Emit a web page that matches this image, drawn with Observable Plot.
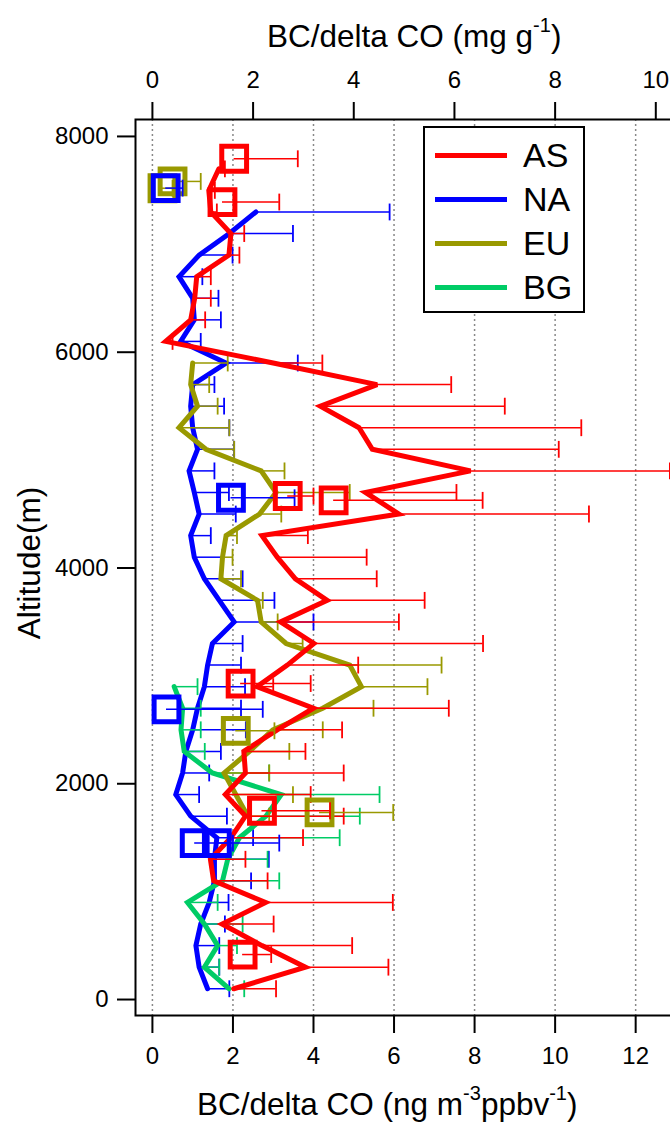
<!DOCTYPE html>
<html><head><meta charset="utf-8">
<script src="https://cdn.jsdelivr.net/npm/d3@7"></script>
<script src="https://cdn.jsdelivr.net/npm/@observablehq/plot@0.6"></script>
<style>
html,body{margin:0;padding:0;background:#fff;overflow:hidden;}
#wrap{position:relative;width:670px;height:1128px;overflow:hidden;font-family:"Liberation Sans",Arial,sans-serif;color:#000;}
#chart{position:absolute;left:0;top:0;width:700px;height:1128px;}
#chart svg{max-width:none !important;width:700px;height:1128px;}
.lab{position:absolute;white-space:nowrap;font-size:31.5px;line-height:1;}
.lab sup{font-size:20px;vertical-align:0;position:relative;top:-15px;}
#legend{position:absolute;left:423px;top:126px;width:158px;height:183px;border:2px solid #000;background:#fff;}
.li{position:absolute;left:10px;width:72px;height:5px;}
.lt{position:absolute;left:98px;font-size:34px;line-height:34px;}
</style></head><body>
<div id="wrap">
  <div id="chart"></div>
  <div class="lab" id="ttop" style="left:267px;top:21px;">BC/delta CO (mg g<sup>-1</sup>)</div>
  <div class="lab" id="tbot" style="left:197px;top:1089px;">BC/delta CO (ng m<sup>-3</sup>ppbv<sup>-1</sup>)</div>
  <div class="lab" id="tleft" style="left:30px;top:563px;transform:translate(-50%,-50%) rotate(-90deg);">Altitude(m)</div>
  <div id="legend"></div>
</div>
<script>
// ---------- data ----------
const seriesNames = ["AS", "NA", "EU", "BG"];
const seriesColors = ["#ff0000", "#0000ff", "#999900", "#00cc66"];

// AS (red) profile
const AS_alt = [100,300,500,700,900,1100,1300,1500,1700,1900,2100,2300,2500,2700,2900,3100,3300,3500,3700,3900,4100,4300,4500,4700,4900,5100,5300,5500,5700,5900,6100,6300,6500,6700,6900,7100,7300,7500,7700];
const AS_val = [2.02,3.80,2.72,1.73,2.81,1.52,1.44,1.95,2.31,1.81,2.31,2.27,3.10,4.00,2.60,3.35,4.01,3.18,4.34,3.55,3.10,2.72,6.12,5.29,7.90,5.46,5.13,4.17,5.58,3.00,0.33,0.95,1.05,1.10,1.90,1.95,1.45,1.40,1.65];
const AS_hi  = [3.07,5.86,4.96,3.01,5.97,2.86,2.31,3.74,4.75,3.93,4.75,3.80,4.71,7.36,3.00,5.11,8.21,6.12,6.76,5.57,5.32,3.86,10.84,7.55,12.85,10.09,10.65,8.75,7.42,4.22,0.50,1.31,1.45,1.45,2.16,2.28,1.60,1.55,1.80];

// NA (blue) profile
const NA_alt = [100,300,500,700,900,1100,1300,1500,1700,1900,2100,2300,2500,2700,2900,3100,3300,3500,3700,3900,4100,4300,4500,4700,4900,5100,5300,5500,5700,5900,6100,6300,6500,6700,6900,7100,7300];
const NA_val = [1.37,1.16,1.08,1.20,1.41,1.54,1.54,1.60,0.95,0.58,0.75,0.83,1.00,1.12,1.29,1.37,1.49,2.03,1.66,1.29,1.04,0.95,1.16,1.04,0.91,1.12,1.00,0.95,1.00,1.83,0.70,1.04,1.00,0.66,1.16,1.91,2.57];
const NA_hi  = [1.91,1.66,1.66,1.80,1.89,2.45,2.89,2.50,1.85,1.16,1.41,1.70,2.32,2.20,2.30,2.20,2.24,4.00,3.03,2.24,1.74,1.45,2.07,1.90,1.54,2.03,1.91,1.78,1.54,3.61,1.20,1.70,1.64,1.24,1.99,3.49,5.89];

// EU (olive) profile
const EU_alt = [1700,1900,2100,2300,2500,2700,2900,3100,3300,3500,3700,3900,4100,4300,4500,4700,4900,5100,5300,5500,5700,5900];
const EU_val = [2.37,2.07,1.78,2.41,2.99,4.23,5.19,4.90,3.32,2.70,2.61,1.70,1.74,1.83,2.66,3.07,2.70,1.33,0.66,1.12,0.95,1.00];
const EU_hi  = [2.90,3.49,2.90,3.40,4.23,5.49,6.83,7.18,3.73,3.11,2.74,2.20,1.99,2.10,3.20,4.90,3.28,2.03,1.91,1.62,1.41,1.87];

// BG (green) profile
const BG_alt = [100,300,500,700,900,1100,1300,1500,1700,1900,2100,2300,2500,2700,2900];
const BG_val = [1.90,1.29,1.62,1.29,0.87,1.74,1.87,2.16,2.82,3.20,1.49,0.79,0.71,0.75,0.54];
const BG_hi  = [2.28,1.66,2.10,2.24,1.62,3.15,2.86,4.65,5.15,5.64,2.90,1.30,1.20,1.20,1.12];

// separate square markers
const AS_sq_alt = [7793,7392,4667,4627,2929,1750,417];
const AS_sq_val = [2.03,1.74,3.36,4.50,2.19,2.72,2.24];
const AS_sq_hi  = [3.61,3.15,4.00,8.20,3.93,4.41,2.95];
const NA_sq_alt = [7521,4651,2690,1450,1450];
const NA_sq_val = [0.33,1.95,0.35,1.05,1.60];
const NA_sq_hi  = [0.75,3.53,2.74,2.00,3.15];
const EU_sq_alt = [7583,7520,2491,1734];
const EU_sq_val = [0.50,0.25,2.07,4.15];
const EU_sq_hi  = [1.20,0.50,3.03,5.98];

// axes
const bottomTicks = [0,2,4,6,8,10,12];
const topTicksMg = [0,2,4,6,8,10];
const altTicks = [0,2000,4000,6000,8000];
const mgPerUnit = 1.25; // 1 mg g^-1 = 1.25 ng m^-3 ppbv^-1

// ---------- build ----------
function rows(alt, val, hi){ return alt.map((a,i)=>({alt:a, v:val[i], hi:hi[i]})); }
const prof = {
  AS: rows(AS_alt, AS_val, AS_hi),
  NA: rows(NA_alt, NA_val, NA_hi),
  EU: rows(EU_alt, EU_val, EU_hi),
  BG: rows(BG_alt, BG_val, BG_hi)
};
const sq = {
  AS: rows(AS_sq_alt, AS_sq_val, AS_sq_hi),
  NA: rows(NA_sq_alt, NA_sq_val, NA_sq_hi),
  EU: rows(EU_sq_alt, EU_sq_val, EU_sq_hi)
};
const col = Object.fromEntries(seriesNames.map((n,i)=>[n, seriesColors[i]]));

const cap = {draw(ctx, size){ const h = Math.sqrt(size)/2; ctx.moveTo(0,-h); ctx.lineTo(0,h); }};

function profileMarks(name){
  const d = prof[name], c = col[name];
  return [
    Plot.ruleY(d, {y:"alt", x1:"v", x2:"hi", stroke:c, strokeWidth:1.5}),
    Plot.dot(d, {x:"hi", y:"alt", symbol:cap, r:9.5, stroke:c, strokeWidth:1.8, fill:"none"}),
    Plot.line(d, {x:"v", y:"alt", stroke:c, strokeWidth:5, strokeLinejoin:"miter", strokeMiterlimit:3})
  ];
}
function squareMarks(name){
  const d = sq[name], c = col[name];
  return [
    Plot.ruleY(d, {y:"alt", x1:"v", x2:"hi", stroke:c, strokeWidth:1.5}),
    Plot.dot(d, {x:"hi", y:"alt", symbol:cap, r:9.5, stroke:c, strokeWidth:1.8, fill:"none"}),
    Plot.dot(d, {x:"v", y:"alt", symbol:"square", r:14, stroke:c, strokeWidth:5, fill:"none"})
  ];
}

const chart = Plot.plot({
  width: 700, height: 1128,
  marginLeft: 135, marginRight: 0, marginTop: 119, marginBottom: 113,
  style: {fontFamily: "'Liberation Sans', Arial, sans-serif", fontSize: "24px", color: "#000", background: "#fff", maxWidth: "none"},
  x: {domain: [-0.42, 13.61]},
  y: {domain: [-148, 8157]},
  marks: [
    Plot.gridX(bottomTicks, {stroke:"#888", strokeOpacity:1, strokeWidth:1.5, strokeDasharray:"2,3"}),
    ...profileMarks("NA"),
    ...profileMarks("BG"),
    ...profileMarks("EU"),
    ...profileMarks("AS"),
    ...squareMarks("EU"),
    ...squareMarks("NA"),
    ...squareMarks("AS"),
    Plot.frame({stroke:"#000", strokeWidth:2}),
    Plot.axisY(altTicks, {tickSize:18, tickPadding:9, strokeWidth:2, tickFormat:d3.format("d"), label:null, fontSize:24}),
    Plot.axisX(bottomTicks, {anchor:"bottom", tickSize:18, tickPadding:13, strokeWidth:2, tickFormat:d3.format("d"), label:null, fontSize:24}),
    Plot.axisX(topTicksMg.map(v=>v*mgPerUnit), {anchor:"top", tickSize:18, tickPadding:14, strokeWidth:2, tickFormat:d=>d3.format("d")(Math.round(d/mgPerUnit)), label:null, fontSize:24})
  ]
});
chart.style.maxWidth = "none";
chart.setAttribute("width", 700);
document.getElementById("chart").appendChild(chart);

// legend
const leg = document.getElementById("legend");
seriesNames.forEach((n,i)=>{
  const cy = 27 + i*44;
  const l = document.createElement("div"); l.className="li"; l.style.top=(cy-2.5)+"px"; l.style.background=seriesColors[i]; leg.appendChild(l);
  const t = document.createElement("div"); t.className="lt"; t.style.top=(cy-17)+"px"; t.textContent=n; leg.appendChild(t);
});
</script>
</body></html>
